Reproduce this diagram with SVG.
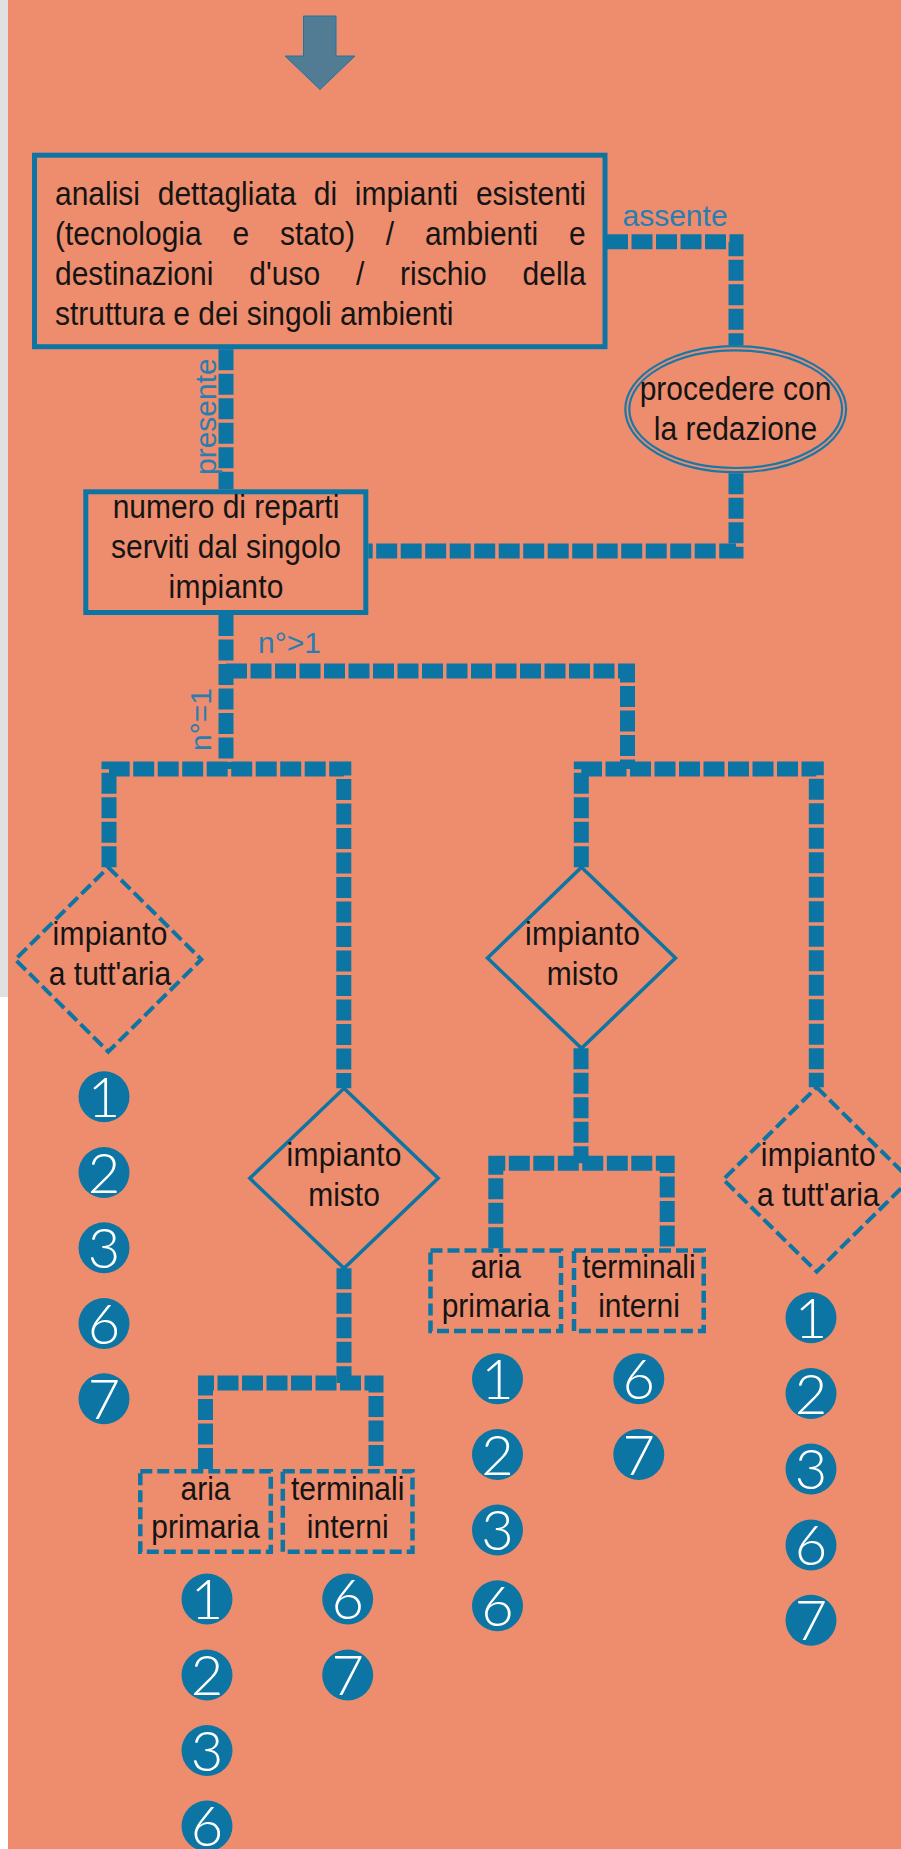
<svg xmlns="http://www.w3.org/2000/svg" width="901" height="1849" viewBox="0 0 901 1849">
<style>
.conn{fill:none;stroke:#0c75a4;stroke-width:15;stroke-dasharray:21 3.5;stroke-linejoin:miter;stroke-linecap:butt}
.box{fill:none;stroke:#0c75a4;stroke-width:5}
.dbox{fill:none;stroke:#0c75a4;stroke-width:4.5;stroke-dasharray:12 5}
.dia{fill:none;stroke:#0c75a4;stroke-width:3.5}
.ddia{fill:none;stroke:#0c75a4;stroke-width:4;stroke-dasharray:13 5}
.ell{fill:none;stroke:#1a78a8;stroke-width:2.2}
.t{font-family:"Liberation Sans",Arial,sans-serif;font-size:32.5px;fill:#141414}
.c{text-anchor:middle}
.lbl{font-family:"Liberation Sans",Arial,sans-serif;font-size:30px;fill:#2a7db0}
.badge{fill:#0c75a4}
.dg{font-family:Lato,"Liberation Sans",sans-serif;font-weight:300;font-size:56px;fill:#ffffff;text-anchor:middle}
</style>
<defs>
<g id="b1"><circle class="badge" r="25.5"/><text class="dg" y="20">1</text></g>
<g id="b2"><circle class="badge" r="25.5"/><text class="dg" y="20">2</text></g>
<g id="b3"><circle class="badge" r="25.5"/><text class="dg" y="20">3</text></g>
<g id="b6"><circle class="badge" r="25.5"/><text class="dg" y="20">6</text></g>
<g id="b7"><circle class="badge" r="25.5"/><text class="dg" y="20">7</text></g>
</defs>
<rect x="0" y="0" width="901" height="1849" fill="#ffffff"/>
<rect x="0" y="0" width="8" height="997" fill="#e1e1e1"/>
<rect x="8" y="0" width="893" height="1849" fill="#ee8d6d"/>

<g id="start-arrow">
<polygon points="303.5,16 336,16 336,56 355,56 320,89.5 285,56 303.5,56" fill="#517c93" stroke="#1f76a3" stroke-width="1"/>
</g>

<g id="connectors">
<path class="conn" d="M607,241.7 H736 V345"/>
<path class="conn" d="M736,473.3 V551 H368.3"/>
<path class="conn" d="M226,349.3 V489.3"/>
<path class="conn" d="M226,615 V769"/>
<path class="conn" d="M226,671 H627.5 V769"/>
<path class="conn" d="M109,867.3 V769 H343.8 V1088.3"/>
<path class="conn" d="M581.3,867.3 V769 H816.3 V1087.3"/>
<path class="conn" d="M344,1268.3 V1383"/>
<path class="conn" d="M205.5,1469 V1383 H376 V1469"/>
<path class="conn" d="M581,1048.3 V1163.3"/>
<path class="conn" d="M495.8,1248.3 V1163.3 H667.2 V1248.3"/>
<text class="lbl" x="622.5" y="226">assente</text>
<text class="lbl" transform="translate(215.5,475) rotate(-90)">presente</text>
<text class="lbl" x="258" y="653.3">n°&gt;1</text>
<text class="lbl" transform="translate(210.5,751) rotate(-90)">n°=1</text>
</g>

<g id="analisi">
<rect class="box" x="34.5" y="155.2" width="570.5" height="191.5"/>
<text class="t" transform="translate(55,204.5) scale(0.923,1)">analisi</text>
<text class="t" transform="translate(157.7,204.5) scale(0.923,1)">dettagliata</text>
<text class="t" transform="translate(313.8,204.5) scale(0.923,1)">di</text>
<text class="t" transform="translate(354.8,204.5) scale(0.923,1)">impianti</text>
<text class="t" transform="translate(475.9,204.5) scale(0.923,1)">esistenti</text>
<text class="t" transform="translate(55,244.8) scale(0.923,1)">(tecnologia</text>
<text class="t" transform="translate(232.5,244.8) scale(0.923,1)">e</text>
<text class="t" transform="translate(280,244.8) scale(0.923,1)">stato)</text>
<text class="t" transform="translate(385.8,244.8) scale(0.923,1)">/</text>
<text class="t" transform="translate(424.9,244.8) scale(0.923,1)">ambienti</text>
<text class="t" transform="translate(569.1,244.8) scale(0.923,1)">e</text>
<text class="t" transform="translate(55,285) scale(0.923,1)">destinazioni</text>
<text class="t" transform="translate(249.3,285) scale(0.923,1)">d'uso</text>
<text class="t" transform="translate(355.9,285) scale(0.923,1)">/</text>
<text class="t" transform="translate(400,285) scale(0.923,1)">rischio</text>
<text class="t" transform="translate(522.6,285) scale(0.923,1)">della</text>
<text class="t" transform="translate(55,325.3) scale(0.923,1)">struttura e dei singoli ambienti</text>
</g>

<g id="procedere">
<ellipse class="ell" cx="735.7" cy="409.2" rx="110.4" ry="63"/>
<ellipse class="ell" cx="735.7" cy="409.2" rx="106.4" ry="58.8"/>
<text class="t c" transform="translate(735.5,400) scale(0.923,1)">procedere con</text>
<text class="t c" transform="translate(735.5,440) scale(0.923,1)">la redazione</text>
</g>

<g id="numero-reparti">
<rect class="box" x="85.8" y="491.8" width="280" height="120.7"/>
<text class="t c" transform="translate(226,518.3) scale(0.923,1)">numero di reparti</text>
<text class="t c" transform="translate(226,558.3) scale(0.923,1)">serviti dal singolo</text>
<text class="t c" transform="translate(226,598.3) scale(0.923,1)" textLength="124.6" lengthAdjust="spacing">impianto</text>
</g>

<g id="tuttaria-1">
<polygon class="ddia" points="108.3,867.3 201.3,959.5 108.3,1051.7 15.3,959.5"/>
<text class="t c" transform="translate(110,945) scale(0.923,1)" textLength="124.6" lengthAdjust="spacing">impianto</text>
<text class="t c" transform="translate(110,985) scale(0.923,1)">a tutt'aria</text>
</g>

<g id="misto-1">
<polygon class="dia" points="344,1088.3 438.2,1178.3 344,1268.3 249.8,1178.3"/>
<text class="t c" transform="translate(344,1166) scale(0.923,1)" textLength="124.6" lengthAdjust="spacing">impianto</text>
<text class="t c" transform="translate(344,1206) scale(0.923,1)">misto</text>
</g>

<g id="misto-2">
<polygon class="dia" points="581.5,867.3 675.5,958 581.5,1048.3 487.5,958"/>
<text class="t c" transform="translate(582.5,945) scale(0.923,1)" textLength="124.6" lengthAdjust="spacing">impianto</text>
<text class="t c" transform="translate(582.5,985) scale(0.923,1)">misto</text>
</g>

<g id="tuttaria-2">
<polygon class="ddia" points="816.7,1087.3 910.1,1179.5 816.7,1271.7 723.3,1179.5"/>
<text class="t c" transform="translate(818.3,1166) scale(0.923,1)" textLength="124.6" lengthAdjust="spacing">impianto</text>
<text class="t c" transform="translate(818.3,1206) scale(0.923,1)">a tutt'aria</text>
</g>

<g id="aria-primaria-1">
<rect class="dbox" x="140.3" y="1471.3" width="130.5" height="80.5"/>
<text class="t c" transform="translate(205.5,1500) scale(0.923,1)">aria</text>
<text class="t c" transform="translate(205.5,1538.4) scale(0.923,1)">primaria</text>
</g>
<g id="terminali-interni-1">
<rect class="dbox" x="282.8" y="1471.3" width="129.7" height="80.5"/>
<text class="t c" transform="translate(347.7,1500) scale(0.923,1)">terminali</text>
<text class="t c" transform="translate(347.7,1538.4) scale(0.923,1)">interni</text>
</g>

<g id="aria-primaria-2">
<rect class="dbox" x="430.5" y="1250.5" width="130.5" height="80.5"/>
<text class="t c" transform="translate(495.8,1278.3) scale(0.923,1)">aria</text>
<text class="t c" transform="translate(495.8,1316.7) scale(0.923,1)">primaria</text>
</g>
<g id="terminali-interni-2">
<rect class="dbox" x="574" y="1250.5" width="129.7" height="80.5"/>
<text class="t c" transform="translate(639,1278.3) scale(0.923,1)">terminali</text>
<text class="t c" transform="translate(639,1316.7) scale(0.923,1)">interni</text>
</g>

<g id="codes-tuttaria-1">
<use href="#b1" x="104" y="1096.7"/>
<use href="#b2" x="104" y="1172.5"/>
<use href="#b3" x="104" y="1247.8"/>
<use href="#b6" x="104" y="1323.5"/>
<use href="#b7" x="104" y="1398.8"/>
</g>
<g id="codes-aria-primaria-1">
<use href="#b1" x="207" y="1599"/>
<use href="#b2" x="207" y="1675"/>
<use href="#b3" x="207" y="1750.5"/>
<use href="#b6" x="207" y="1826"/>
</g>
<g id="codes-terminali-interni-1">
<use href="#b6" x="347.7" y="1599"/>
<use href="#b7" x="347.7" y="1675"/>
</g>
<g id="codes-aria-primaria-2">
<use href="#b1" x="497.5" y="1378.8"/>
<use href="#b2" x="497.5" y="1454.5"/>
<use href="#b3" x="497.5" y="1530"/>
<use href="#b6" x="497.5" y="1605.8"/>
</g>
<g id="codes-terminali-interni-2">
<use href="#b6" x="638.8" y="1378.8"/>
<use href="#b7" x="638.8" y="1454.5"/>
</g>
<g id="codes-tuttaria-2">
<use href="#b1" x="811" y="1317.8"/>
<use href="#b2" x="811" y="1393.5"/>
<use href="#b3" x="811" y="1469"/>
<use href="#b6" x="811" y="1545"/>
<use href="#b7" x="811" y="1620.3"/>
</g>
</svg>
